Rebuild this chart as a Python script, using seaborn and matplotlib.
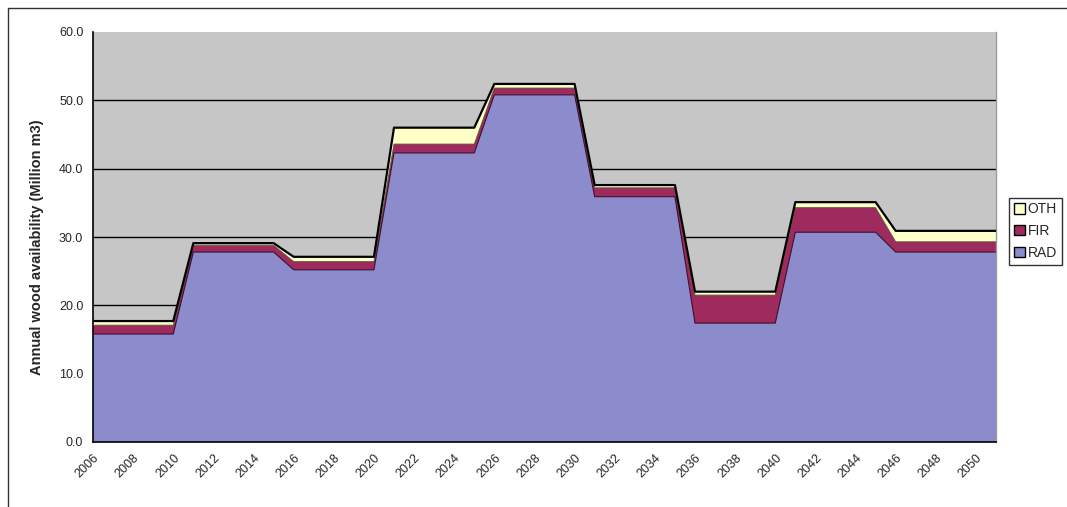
import matplotlib
matplotlib.use("Agg")
import matplotlib.pyplot as plt
from matplotlib.patches import Patch
from matplotlib.lines import Line2D
import seaborn as sns
import pandas as pd
import numpy as np

years = list(range(2006, 2052))
rad = [15.8, 15.8, 15.8, 15.8, 15.8,
       27.8, 27.8, 27.8, 27.8, 27.8,
       25.2, 25.2, 25.2, 25.2, 25.2,
       42.3, 42.3, 42.3, 42.3, 42.3,
       50.8, 50.8, 50.8, 50.8, 50.8,
       35.9, 35.9, 35.9, 35.9, 35.9,
       17.4, 17.4, 17.4, 17.4, 17.4,
       30.7, 30.7, 30.7, 30.7, 30.7,
       27.8, 27.8, 27.8, 27.8, 27.8, 27.8]
fir = [1.3, 1.3, 1.3, 1.3, 1.3,
       1.0, 1.0, 1.0, 1.0, 1.0,
       1.2, 1.2, 1.2, 1.2, 1.2,
       1.3, 1.3, 1.3, 1.3, 1.3,
       1.0, 1.0, 1.0, 1.0, 1.0,
       1.3, 1.3, 1.3, 1.3, 1.3,
       4.1, 4.1, 4.1, 4.1, 4.1,
       3.6, 3.6, 3.6, 3.6, 3.6,
       1.5, 1.5, 1.5, 1.5, 1.5, 1.5]
oth = [0.6, 0.6, 0.6, 0.6, 0.6,
       0.3, 0.3, 0.3, 0.3, 0.3,
       0.7, 0.7, 0.7, 0.7, 0.7,
       2.4, 2.4, 2.4, 2.4, 2.4,
       0.6, 0.6, 0.6, 0.6, 0.6,
       0.4, 0.4, 0.4, 0.4, 0.4,
       0.5, 0.5, 0.5, 0.5, 0.5,
       0.8, 0.8, 0.8, 0.8, 0.8,
       1.6, 1.6, 1.6, 1.6, 1.6, 1.6]
series_names = ["RAD", "FIR", "OTH"]
y_ticks = [0, 10, 20, 30, 40, 50, 60]

colors = {"RAD": "#8C8CCC", "FIR": "#9E2A5E", "OTH": "#FFFFC8"}

sns.set_style("white")
plt.rcParams["font.family"] = ["Liberation Sans", "DejaVu Sans"]

df = pd.DataFrame({"year": years, "RAD": rad, "FIR": fir, "OTH": oth})
df["total"] = df["RAD"] + df["FIR"] + df["OTH"]

fig = plt.figure(figsize=(10.67, 5.07), dpi=100)
W, H = 1067, 507
ax = fig.add_axes([93 / W, (H - 442) / H, 903 / W, 410 / H])
ax.set_facecolor("#C6C6C6")

for yv in y_ticks[1:-1]:
    ax.axhline(yv, color="black", lw=1.0, zorder=1)

ax.stackplot(df["year"], df["RAD"], df["FIR"], df["OTH"],
             colors=[colors[s] for s in series_names],
             edgecolor="none", zorder=2)
cum1 = df["RAD"]
cum2 = df["RAD"] + df["FIR"]
ax.plot(df["year"], cum1, color="#3a1030", lw=0.8, zorder=3)
ax.plot(df["year"], cum2, color="#555533", lw=0.6, zorder=3)
sns.lineplot(data=df, x="year", y="total", color="black", lw=1.6, ax=ax, zorder=4)

ax.set_xlim(2006, 2051)
ax.set_ylim(0, 60)
ax.set_yticks(y_ticks)
ax.set_yticklabels([f"{v:.1f}" for v in y_ticks], fontsize=9)
ax.set_xticks(years)
ax.set_xticklabels([str(y) if (y - 2006) % 2 == 0 else "" for y in years],
                   rotation=45, ha="right", rotation_mode="anchor", fontsize=9)
ax.tick_params(axis="both", direction="out", length=4, width=1, color="black", pad=3)
ax.set_xlabel("")
ax.set_ylabel("Annual wood availability (Million m3)", fontsize=10.5, fontweight="bold",
              va="center")
ax.yaxis.set_label_coords((37 - 93) / 903, (442 - 247) / 410)

ax.spines["top"].set_visible(False)
ax.spines["right"].set_color("#999999")
ax.spines["right"].set_linewidth(1)
ax.spines["left"].set_color("black")
ax.spines["bottom"].set_color("black")
ax.spines["left"].set_linewidth(1.2)
ax.spines["bottom"].set_linewidth(1.2)

handles = [Patch(facecolor=colors[s], edgecolor="black", lw=1) for s in ["OTH", "FIR", "RAD"]]
leg = fig.legend(handles, ["OTH", "FIR", "RAD"], loc="center left",
                 bbox_to_anchor=(1009 / W, 1 - 231 / H), fontsize=10,
                 frameon=True, fancybox=False, handlelength=0.8, handleheight=0.8,
                 handletextpad=0.2, borderpad=0.35, labelspacing=0.55, borderaxespad=0)
leg.get_frame().set_edgecolor("black")
leg.get_frame().set_linewidth(1)

fig.add_artist(Line2D([8 / W, 1.0], [1 - 8 / H, 1 - 8 / H], color="#333333", lw=1))
fig.add_artist(Line2D([8 / W, 8 / W], [0.0, 1 - 8 / H], color="#333333", lw=1))

fig.savefig("out.png", dpi=100, facecolor="white")
